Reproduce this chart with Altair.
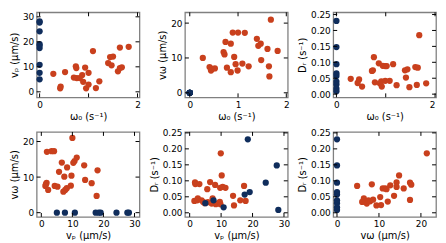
import altair as alt
import pandas as pd

RED = "#c9401d"
BLUE = "#0f2d5c"

# blue particles (omega0 = 0, v_omega = 0)
blue_vp = [5.0, 7.6, 10.8, 17.5, 19.1, 24.2, 27.7, 28.2, 18.5]
blue_Dr = [0.030, 0.039, 0.017, 0.057, 0.065, 0.094, 0.148, 0.009, 0.230]
blue_zero = [0.0] * len(blue_vp)

# panel 1: omega0 vs vp
p1_w0 = [0.28, 0.52, 0.43, 0.42, 0.74, 0.75, 0.70, 0.76, 0.82, 0.87, 0.93, 0.89, 0.95, 1.00,
         1.00, 1.09, 1.15, 1.22, 1.40, 1.47, 1.44, 1.50, 1.60, 1.64, 1.68, 1.64, 1.82]
p1_vp = [7.2, 7.9, 2.1, 1.4, 10.2, 9.5, 5.7, 5.5, 5.5, 6.7, 9.7, 4.0, 1.4, 7.6,
         2.9, 16.3, 1.5, 4.2, 11.5, 10.6, 13.9, 14.1, 8.2, 9.5, 9.8, 17.7, 18.0]

# panel 2: omega0 vs v_omega
p2_w0 = [0.27, 0.41, 0.44, 0.47, 0.52, 0.70, 0.72, 0.74, 0.77, 0.85, 0.85, 0.89, 0.92, 0.95,
         0.99, 1.00, 1.09, 1.14, 1.22, 1.39, 1.42, 1.47, 1.48, 1.61, 1.64, 1.65, 1.68, 1.82]
p2_vw = [10.0, 7.4, 6.4, 6.9, 7.0, 11.7, 11.0, 14.6, 7.2, 14.1, 5.9, 17.3, 10.3, 8.2,
         6.4, 17.3, 8.4, 17.2, 7.6, 15.5, 13.5, 14.1, 9.4, 12.6, 7.6, 4.7, 21.0, 12.0]

# panel 3: omega0 vs Dr
p3_w0 = [0.29, 0.43, 0.46, 0.52, 0.72, 0.74, 0.76, 0.78, 0.86, 0.88, 0.92, 0.91, 0.94, 0.99,
         1.02, 0.99, 1.08, 1.15, 1.22, 1.39, 1.44, 1.41, 1.48, 1.60, 1.65, 1.63, 1.68, 1.82]
p3_Dr = [0.048, 0.035, 0.046, 0.024, 0.073, 0.075, 0.116, 0.037, 0.097, 0.034, 0.024, 0.040, 0.089, 0.088,
         0.088, 0.042, 0.042, 0.094, 0.028, 0.075, 0.078, 0.052, 0.022, 0.085, 0.083, 0.029, 0.185, 0.034]

# panel 4: vp vs v_omega
p4_vp = [1.8, 1.5, 1.7, 1.3, 2.2, 3.3, 4.1, 4.3, 5.2, 5.7, 6.6, 7.1, 7.7, 7.4, 8.3, 8.2, 9.5, 9.7,
         10.0, 10.3, 10.7, 11.4, 13.8, 14.1, 16.2, 17.8, 18.1]
p4_vw = [17.1, 8.0, 8.4, 7.5, 6.4, 17.3, 17.3, 7.5, 7.3, 11.5, 14.1, 5.9, 6.4, 10.1, 12.7, 6.9, 7.6, 10.4,
         21.0, 14.0, 14.5, 15.5, 13.3, 9.2, 8.3, 4.7, 11.9]

# panel 5: vp vs Dr
p5_vp = [1.5, 1.7, 1.8, 2.4, 2.6, 3.1, 3.8, 4.3, 4.8, 5.6, 5.8, 6.5, 7.0, 7.3, 8.1, 8.3, 9.3, 9.6,
         9.7, 9.9, 10.2, 10.5, 11.4, 9.8, 13.8, 14.1, 16.1, 17.3, 17.8]
p5_Dr = [0.037, 0.095, 0.090, 0.039, 0.045, 0.090, 0.039, 0.034, 0.030, 0.074, 0.033, 0.096, 0.029, 0.045,
         0.087, 0.027, 0.030, 0.034, 0.078, 0.186, 0.117, 0.081, 0.078, 0.027, 0.053, 0.023, 0.039, 0.084, 0.037]

# panel 6: v_omega vs Dr
p6_vw = [4.8, 6.0, 6.4, 6.8, 7.1, 7.5, 7.9, 8.3, 8.6, 9.4, 10.3, 10.5, 10.9, 11.5, 11.8, 12.1, 12.7,
         13.6, 14.2, 14.2, 14.8, 15.9, 17.4, 17.4, 17.7, 21.4]
p6_Dr = [0.084, 0.034, 0.045, 0.034, 0.029, 0.039, 0.036, 0.089, 0.041, 0.023, 0.049, 0.024, 0.076, 0.076,
         0.074, 0.035, 0.086, 0.053, 0.095, 0.081, 0.117, 0.076, 0.040, 0.094, 0.088, 0.186]

W, H = 104, 86
TL = 4


def panel(xr, yr, xb, yb, xdom, ydom, xticks, yticks, xtitle, ytitle, yfmt="d"):
    xs = alt.Scale(domain=xdom, nice=False, zero=False)
    ys = alt.Scale(domain=ydom, nice=False, zero=False)
    xaxis = alt.Axis(values=xticks, title=xtitle, ticks=False, domain=False, grid=False,
                     labelPadding=3, titlePadding=2, format="d")
    yaxis = alt.Axis(values=yticks, title=ytitle, ticks=False, domain=False, grid=False,
                     labelPadding=3, titlePadding=3, format=yfmt)
    X = alt.X("x:Q", scale=xs, axis=xaxis)
    Y = alt.Y("y:Q", scale=ys, axis=yaxis)
    red = alt.Chart(pd.DataFrame({"x": xr, "y": yr})).mark_circle(
        size=40, opacity=1, color=RED).encode(x=X, y=Y)
    blue = alt.Chart(pd.DataFrame({"x": xb, "y": yb})).mark_circle(
        size=40, opacity=1, color=BLUE).encode(x=X, y=Y)
    txd = pd.DataFrame({"x": xticks})
    tyd = pd.DataFrame({"y": yticks})
    tb = alt.Chart(txd).mark_rule(color="black", strokeWidth=1).encode(
        x=X, y=alt.value(H), y2=alt.value(H - TL))
    tt = alt.Chart(txd).mark_rule(color="black", strokeWidth=1).encode(
        x=X, y=alt.value(0), y2=alt.value(TL))
    tl = alt.Chart(tyd).mark_rule(color="black", strokeWidth=1).encode(
        y=Y, x=alt.value(0), x2=alt.value(TL))
    tr = alt.Chart(tyd).mark_rule(color="black", strokeWidth=1).encode(
        y=Y, x=alt.value(W), x2=alt.value(W - TL))
    return alt.layer(red, blue, tb, tt, tl, tr).properties(width=W, height=H)


T_W0 = "ω₀ (s⁻¹)"
T_VP = "vₚ (μm/s)"
T_VW = "vω (μm/s)"
T_DR = "Dᵣ (s⁻¹)"
DR_TICKS = [0.0, 0.05, 0.10, 0.15, 0.20, 0.25]

c1 = panel(p1_w0, p1_vp, blue_zero, blue_vp, [-0.06, 2.04], [-2.2, 31.8],
           [0, 1, 2], [0, 10, 20, 30], T_W0, T_VP)
c2 = panel(p2_w0, p2_vw, blue_zero, blue_zero, [-0.1, 2.03], [-1.3, 23.1],
           [0, 1, 2], [0, 10, 20], T_W0, T_VW)
c3 = panel(p3_w0, p3_Dr, blue_zero, blue_Dr, [-0.065, 2.02], [-0.01, 0.257],
           [0, 1, 2], DR_TICKS, T_W0, T_DR, yfmt=".2f")
c4 = panel(p4_vp, p4_vw, blue_vp, blue_zero, [-1.5, 31.6], [-1.2, 22.7],
           [0, 10, 20, 30], [0, 10, 20], T_VP, T_VW)
c5 = panel(p5_vp, p5_Dr, blue_vp, blue_Dr, [-1.5, 31.2], [-0.013, 0.253],
           [0, 10, 20, 30], DR_TICKS, T_VP, T_DR, yfmt=".2f")
c6 = panel(p6_vw, p6_Dr, blue_zero, blue_Dr, [-0.9, 23.6], [-0.013, 0.253],
           [0, 10, 20], DR_TICKS, T_VW, T_DR, yfmt=".2f")

chart = alt.concat(
    c1, c2, c3, c4, c5, c6, columns=3,
    spacing=alt.RowColnumber(row=35, column=46), bounds="flush"
).properties(
    padding=0
).configure_view(
    stroke="#808080", strokeWidth=1.3
).configure_axis(
    labelFont="DejaVu Sans", labelFontSize=9, labelColor="black",
    titleFont="DejaVu Sans", titleFontSize=10, titleFontWeight="normal", titleColor="black"
)

chart.save("out.html", embed_options={"renderer": "svg", "actions": False})
